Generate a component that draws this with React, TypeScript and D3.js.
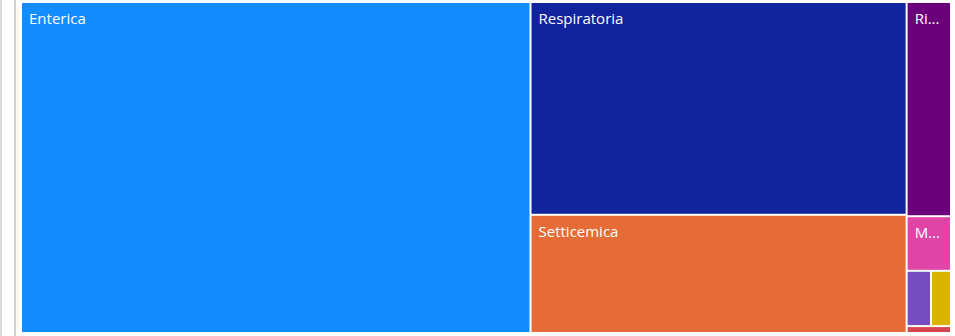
import React, { useMemo } from "react";
import * as d3 from "d3";

// ---- data ----
const categories = [
  "Enterica",
  "Respiratoria",
  "Setticemica",
  "Riproduttiva",
  "Mastite",
  "Nervosa",
  "Articolare",
  "Cutanea",
];
const values = [550, 261, 145, 31, 7.9, 4.4, 3.6, 1.0];
const colors = [
  "#118DFF",
  "#12239E",
  "#E66C37",
  "#6B007B",
  "#E044A7",
  "#744EC2",
  "#D9B300",
  "#D64550",
];

// layout option: how many items go in each successive strip
const stripSizes = [1, 2, 1, 1, 2, 1];

const W = 955;
const H = 336;
const X0 = 22;
const Y0 = 3;
const TW = 928;
const TH = 329;
const FONT = "15px 'Open Sans', 'Noto Sans', sans-serif";

function stripTile(parent: any, x0: number, y0: number, x1: number, y1: number) {
  const nodes = parent.children;
  let value = parent.value;
  let i = 0;
  for (const n of stripSizes) {
    const row = nodes.slice(i, i + n);
    if (!row.length) break;
    const sum = d3.sum(row, (d: any) => d.value);
    const dx = x1 - x0;
    const dy = y1 - y0;
    const fake: any = { value: sum, children: row };
    if (dx < dy) {
      const yy = value ? y0 + (dy * sum) / value : y1;
      d3.treemapDice(fake, x0, y0, x1, yy);
      y0 = yy;
    } else {
      const xx = value ? x0 + (dx * sum) / value : x1;
      d3.treemapSlice(fake, x0, y0, xx, y1);
      x0 = xx;
    }
    value -= sum;
    i += n;
  }
}

let ctx: CanvasRenderingContext2D | null = null;
function measure(s: string) {
  if (!ctx) ctx = document.createElement("canvas").getContext("2d");
  if (!ctx) return s.length * 8;
  ctx.font = FONT;
  return ctx.measureText(s).width;
}
function fit(label: string, avail: number) {
  if (measure(label) <= avail) return label;
  for (let k = label.length - 1; k >= 1; k--) {
    const s = label.slice(0, k) + "...";
    if (measure(s) <= avail) return s;
  }
  return "";
}

export default function App() {
  const leaves = useMemo(() => {
    const data = {
      name: "root",
      children: categories.map((c, i) => ({ name: c, value: values[i], color: colors[i] })),
    };
    const root = d3
      .hierarchy<any>(data)
      .sum((d: any) => d.value || 0)
      .sort((a, b) => (b.value || 0) - (a.value || 0));
    d3.treemap<any>().tile(stripTile as any).size([TW, TH]).paddingInner(2).paddingOuter(0)(root);
    return root.leaves() as any[];
  }, []);

  return (
    <div style={{ position: "fixed", left: 0, top: 0, width: W, height: H, background: "#fff" }}>
      <svg width={W} height={H} style={{ display: "block" }}>
        <rect x={0} y={0} width={2} height={H} fill="#d9d9d9" />
        <rect x={14} y={0} width={2} height={H} fill="#d0d0d0" />
        <g transform={`translate(${X0},${Y0})`}>
          {leaves.map((d, i) => {
            const x = d.x0;
            const y = d.y0;
            const w = Math.max(0, d.x1 - d.x0);
            const h = Math.max(0, d.y1 - d.y0);
            const showLabel = w > 30 && h > 30;
            const txt = showLabel ? fit(d.data.name, w - 14) : "";
            return (
              <g key={i}>
                <rect x={x} y={y} width={w} height={h} fill={d.data.color} />
                {txt && (
                  <text
                    x={x + 7}
                    y={y + 21}
                    fill="#fff"
                    style={{ font: FONT }}
                  >
                    {txt}
                  </text>
                )}
              </g>
            );
          })}
        </g>
      </svg>
    </div>
  );
}
